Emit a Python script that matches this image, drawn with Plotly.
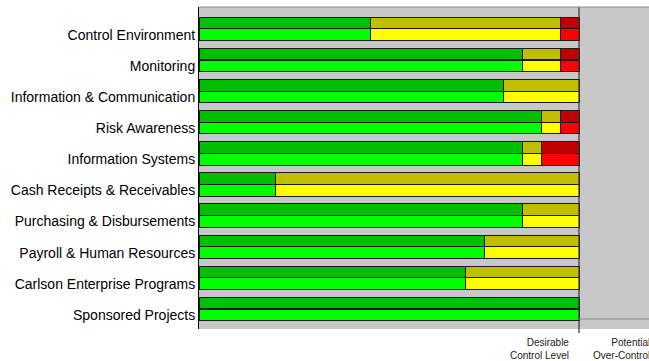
import plotly.graph_objects as go

categories = ["Control Environment", "Monitoring", "Information & Communication",
              "Risk Awareness", "Information Systems", "Cash Receipts & Receivables",
              "Purchasing & Disbursements", "Payroll & Human Resources",
              "Carlson Enterprise Programs", "Sponsored Projects"]

# upper (dark) bars
upper_green = [45, 85, 80, 90, 85, 20, 85, 75, 70, 100]
upper_yellow = [50, 10, 20, 5, 5, 80, 15, 25, 30, 0]
upper_red = [5, 5, 0, 5, 10, 0, 0, 0, 0, 0]
# lower (bright) bars
lower_green = [45, 85, 80, 90, 85, 20, 85, 75, 70, 100]
lower_yellow = [50, 10, 20, 5, 5, 80, 15, 25, 30, 0]
lower_red = [5, 5, 0, 5, 10, 0, 0, 0, 0, 0]

x_labels = ["Desirable<br>Control Level", "Potential<br>Over-Control"]

n = len(categories)
off = 0.188
bw = 0.372
y_up = [i - off for i in range(n)]
y_lo = [i + off for i in range(n)]

fig = go.Figure()
line = dict(color="#1a1a1a", width=1)
for vals, col, ys in [
    (upper_green, "#00bf00", y_up), (upper_yellow, "#bfbf00", y_up), (upper_red, "#bf0000", y_up),
    (lower_green, "#00ff00", y_lo), (lower_yellow, "#ffff00", y_lo), (lower_red, "#ff0000", y_lo),
]:
    fig.add_trace(go.Bar(x=vals, y=ys, orientation="h", width=bw,
                         marker=dict(color=col, line=line), showlegend=False,
                         hoverinfo="skip"))

fig.update_layout(
    barmode="stack",
    width=649, height=361,
    margin=dict(l=199, r=0, t=7, b=32),
    paper_bgcolor="white",
    plot_bgcolor="#c8c8c8",
    font=dict(family="Liberation Sans, Arial, sans-serif", color="black"),
    xaxis=dict(range=[0, 118.42], showgrid=False, zeroline=False, showticklabels=False,
               ticks="", showline=False),
    yaxis=dict(range=[9.643, -0.704], showgrid=False, zeroline=False,
               tickvals=y_lo, ticktext=categories, tickfont=dict(size=14),
               ticks="", showline=True, linecolor="black", linewidth=1),
)

# reference line at desirable control level
fig.add_shape(type="line", xref="x", yref="paper", x0=100, x1=100, y0=-4/322, y1=1,
              line=dict(color="#333333", width=1.2))
# top border
fig.add_shape(type="line", xref="paper", yref="paper", x0=0, x1=1, y0=1, y1=1,
              line=dict(color="#8c8c8c", width=1))
# horizontal line in over-control region
fig.add_shape(type="line", xref="x", yref="paper", x0=100, x1=118.42, y0=10/322, y1=10/322,
              line=dict(color="#8c8c8c", width=1))

fig.add_annotation(text=x_labels[0], xref="x", yref="paper", x=97.9, y=-6/322,
                   xanchor="right", yanchor="top", align="right", showarrow=False,
                   font=dict(size=10, color="#222222"))
fig.add_annotation(text=x_labels[1], xref="paper", yref="paper", x=(652-199)/450, y=-6/322,
                   xanchor="right", yanchor="top", align="right", showarrow=False,
                   font=dict(size=10, color="#222222"))

fig.write_html("out.html")
